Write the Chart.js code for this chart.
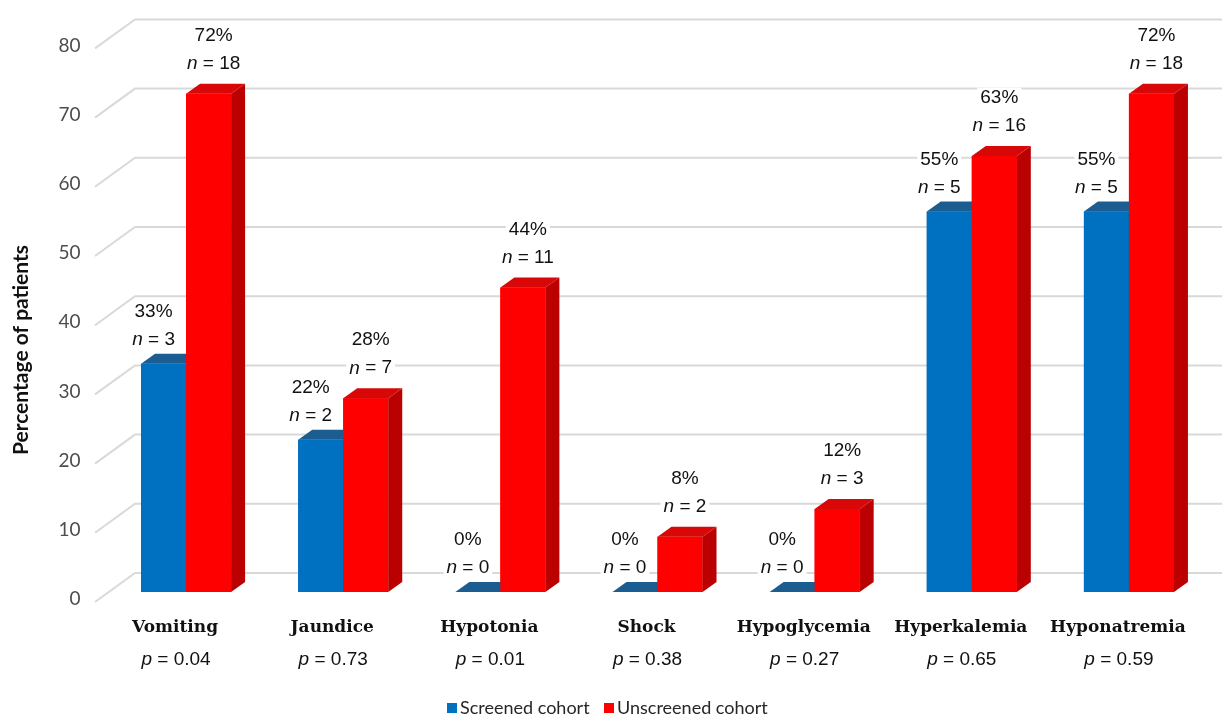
<!DOCTYPE html>
<html>
<head>
<meta charset="utf-8">
<script src="https://cdn.jsdelivr.net/npm/chart.js@4.4.1/dist/chart.umd.min.js"></script>
<style>
  html, body { margin: 0; padding: 0; background: #fff; }
  #wrap { width: 1231px; height: 718px; position: relative; }
</style>
</head>
<body>
<div id="wrap"><canvas id="chart"></canvas></div>
<script>
// данные графика
var categories = ['Vomiting', 'Jaundice', 'Hypotonia', 'Shock', 'Hypoglycemia', 'Hyperkalemia', 'Hyponatremia'];
var pValues = ['0.04', '0.73', '0.01', '0.38', '0.27', '0.65', '0.59'];
var screenedPct = [33, 22, 0, 0, 0, 55, 55];
var unscreenedPct = [72, 28, 44, 8, 12, 63, 72];
var screenedN = [3, 2, 0, 0, 0, 5, 5];
var unscreenedN = [18, 7, 11, 2, 3, 16, 18];
var seriesNames = ['Screened cohort', 'Unscreened cohort'];
var yTicks = [0, 10, 20, 30, 40, 50, 60, 70, 80];

var DX = 14, DY = -10;
var faces = [
  { front: '#0070C0', top: '#1C5D91', side: '#0B4F85' },
  { front: '#FF0000', top: '#D80808', side: '#BA0000' }
];
var counts = [screenedN, unscreenedN];

function poly(ctx, pts, color) {
  ctx.beginPath();
  ctx.moveTo(pts[0][0], pts[0][1]);
  for (var i = 1; i < pts.length; i++) ctx.lineTo(pts[i][0], pts[i][1]);
  ctx.closePath();
  ctx.fillStyle = color;
  ctx.fill();
}

// текст с курсивной первой буквой (n, p)
function mixedText(ctx, ital, rest, cx, cy, size, bg) {
  ctx.font = 'italic ' + size + 'px "Liberation Sans", Arial, sans-serif';
  var w1 = ctx.measureText(ital).width;
  ctx.font = size + 'px "Liberation Sans", Arial, sans-serif';
  var w2 = ctx.measureText(rest).width;
  var x = cx - (w1 + w2) / 2;
  if (bg) {
    ctx.fillStyle = '#fff';
    ctx.fillRect(x - 3, cy - size * 0.55, w1 + w2 + 6, size * 1.1);
  }
  ctx.fillStyle = '#111';
  ctx.textAlign = 'left';
  ctx.textBaseline = 'middle';
  ctx.font = 'italic ' + size + 'px "Liberation Sans", Arial, sans-serif';
  ctx.fillText(ital, x, cy);
  ctx.font = size + 'px "Liberation Sans", Arial, sans-serif';
  ctx.fillText(rest, x + w1, cy);
}

function plainText(ctx, txt, cx, cy, size) {
  ctx.font = size + 'px "Liberation Sans", Arial, sans-serif';
  var w = ctx.measureText(txt).width;
  ctx.fillStyle = '#fff';
  ctx.fillRect(cx - w / 2 - 3, cy - size * 0.55, w + 6, size * 1.1);
  ctx.fillStyle = '#111';
  ctx.textAlign = 'center';
  ctx.textBaseline = 'middle';
  ctx.fillText(txt, cx, cy);
}

var bars3d = {
  id: 'bars3d',
  beforeDatasetsDraw: function (chart) {
    // перспективная сетка
    var ctx = chart.ctx, y = chart.scales.y;
    ctx.save();
    ctx.strokeStyle = '#D9D9D9';
    ctx.lineWidth = 2;
    yTicks.forEach(function (v) {
      var py = y.getPixelForValue(v);
      ctx.beginPath();
      ctx.moveTo(95, py + 10);
      ctx.lineTo(135, py - 19);
      ctx.lineTo(1222, py - 19);
      ctx.stroke();
    });
    ctx.restore();
  },
  afterDatasetsDraw: function (chart) {
    var ctx = chart.ctx;
    var metas = [chart.getDatasetMeta(0), chart.getDatasetMeta(1)];
    ctx.save();
    for (var i = 0; i < categories.length; i++) {
      for (var d = 0; d < 2; d++) {
        var el = metas[d].data[i];
        var x0 = el.x - el.width / 2, x1 = el.x + el.width / 2;
        var top = el.y, base = el.base;
        var f = faces[d];
        if (base - top > 0.5) {
          poly(ctx, [[x0, top], [x1, top], [x1, base], [x0, base]], f.front);
          poly(ctx, [[x1, top], [x1 + DX, top + DY], [x1 + DX, base + DY], [x1, base]], f.side);
        }
        poly(ctx, [[x0, top], [x1, top], [x1 + DX, top + DY], [x0 + DX, top + DY]], f.top);
      }
    }
    // подписи значений
    for (var i2 = 0; i2 < categories.length; i2++) {
      for (var d2 = 0; d2 < 2; d2++) {
        var e = metas[d2].data[i2];
        var val = chart.data.datasets[d2].data[i2];
        var cx = e.x + (d2 === 0 ? -10 : 5);
        var ny = e.y - (d2 === 0 ? 24 : 30);
        plainText(ctx, val + '%', cx, ny - 28, 19);
        mixedText(ctx, 'n', ' = ' + counts[d2][i2], cx, ny, 19, true);
      }
    }
    // подписи категорий и p
    var xs = chart.scales.x;
    for (var k = 0; k < categories.length; k++) {
      var px = xs.getPixelForValue(k);
      ctx.font = 'bold 17px "DejaVu Serif", serif';
      ctx.fillStyle = '#111';
      ctx.textAlign = 'center';
      ctx.textBaseline = 'middle';
      ctx.fillText(categories[k], px - 11, 628);
      mixedText(ctx, 'p', ' = ' + pValues[k], px - 10, 660, 19, false);
    }
    // заголовок оси Y
    ctx.save();
    ctx.translate(21, 350);
    ctx.rotate(-Math.PI / 2);
    ctx.font = 'bold 21px Lato, "Open Sans", sans-serif';
    ctx.fillStyle = '#111';
    ctx.textAlign = 'center';
    ctx.textBaseline = 'middle';
    ctx.fillText('Percentage of patients', 0, 0);
    ctx.restore();
    // легенда
    var lx = [447, 604];
    ctx.font = '18px Lato, "Open Sans", sans-serif';
    ctx.textAlign = 'left';
    ctx.textBaseline = 'middle';
    for (var s = 0; s < 2; s++) {
      ctx.fillStyle = faces[s].front;
      ctx.fillRect(lx[s], 703, 10, 10);
      ctx.fillStyle = '#262626';
      ctx.fillText(seriesNames[s], lx[s] + 13, 708);
    }
    ctx.restore();
  }
};

new Chart(document.getElementById('chart'), {
  type: 'bar',
  data: {
    labels: categories,
    datasets: [
      { label: seriesNames[0], data: screenedPct, backgroundColor: faces[0].front, borderWidth: 0 },
      { label: seriesNames[1], data: unscreenedPct, backgroundColor: faces[1].front, borderWidth: 0 }
    ]
  },
  options: {
    responsive: true,
    maintainAspectRatio: false,
    animation: false,
    categoryPercentage: 0.573,
    barPercentage: 1,
    layout: { padding: { top: 33, right: 23.5, bottom: 126, left: 0 } },
    plugins: {
      legend: { display: false },
      tooltip: { enabled: false }
    },
    scales: {
      x: { display: false },
      y: {
        min: 0,
        max: 80,
        afterFit: function (s) { s.width = 107.5; },
        border: { display: false },
        grid: { display: false, drawTicks: false },
        ticks: {
          stepSize: 10,
          padding: 27,
          labelOffset: 7,
          color: '#4D4D4D',
          font: { family: 'Lato, "Open Sans", sans-serif', size: 19 }
        }
      }
    }
  },
  plugins: [bars3d]
});
</script>
</body>
</html>
